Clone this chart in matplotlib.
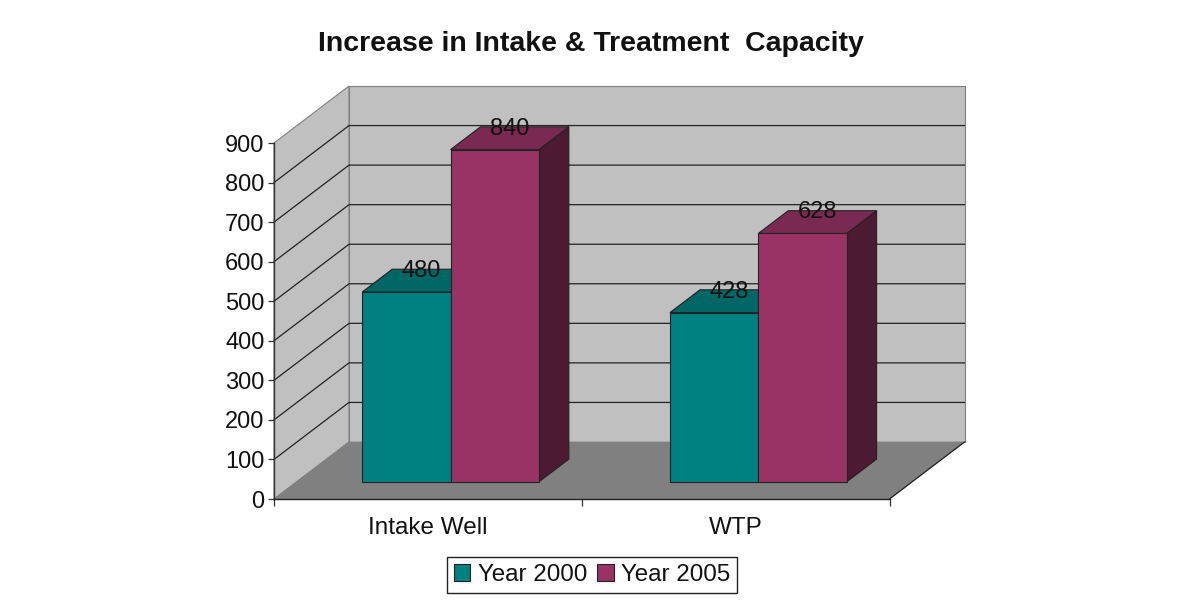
import matplotlib
matplotlib.use('Agg')
import matplotlib.pyplot as plt
from matplotlib.patches import Polygon, Patch

plt.rcParams['font.family'] = ['Liberation Sans', 'DejaVu Sans']

categories = ['Intake Well', 'WTP']
series_names = ['Year 2000', 'Year 2005']
year_2000 = [480, 428]
year_2005 = [840, 628]
y_ticks = [0, 100, 200, 300, 400, 500, 600, 700, 800, 900]

front_colors = ['#008080', '#993366']
top_colors = ['#006666', '#7a2952']
side_colors = ['#004d4d', '#4d1a33']

W, H = 1185, 601
fig = plt.figure(figsize=(W / 100, H / 100), dpi=100)
ax = fig.add_axes([274 / W, 1 - 499 / H, 615.5 / W, 356 / H])
ax.set_xlim(0, 2)
ax.set_ylim(0, 900)

# depth of the fake 3d box, in data units
DEPTH_X = 75 / 307.75
DEPTH_Y = 57 / (356 / 900)
BAR_D0 = 0.30
BAR_D1 = 0.70
BAR_W = 0.287
BAR_START = 0.2135


def pt(x, y, d=0.0):
    return (x + d * DEPTH_X, y + d * DEPTH_Y)


def face(points, color, edge='#222222', lw=0.8, z=1):
    ax.add_patch(Polygon(points, closed=True, facecolor=color, edgecolor=edge,
                         linewidth=lw, clip_on=False, zorder=z))


# walls and floor
face([pt(0, 0), pt(0, 900), pt(0, 900, 1), pt(0, 0, 1)], '#c0c0c0', '#808080', 0.8)
face([pt(0, 0, 1), pt(0, 900, 1), pt(2, 900, 1), pt(2, 0, 1)], '#c0c0c0', '#808080', 0.8)

for v in y_ticks[1:-1]:
    xs, ys = zip(pt(0, v), pt(0, v, 1), pt(2, v, 1))
    ax.plot(xs, ys, color='#222222', lw=0.9, clip_on=False, zorder=2)

face([pt(0, 0), pt(0, 0, 1), pt(2, 0, 1), pt(2, 0)], '#808080', '#808080', 0.5, z=3)
xs, ys = zip(pt(2, 0), pt(2, 0, 1))
ax.plot(xs, ys, color='#222222', lw=0.9, clip_on=False, zorder=3)

# bars
z = 4
for i in range(len(categories)):
    for j, values in enumerate([year_2000, year_2005]):
        left = i + BAR_START + j * BAR_W
        right = left + BAR_W
        v = values[i]
        face([pt(right, 0, BAR_D0), pt(right, v, BAR_D0), pt(right, v, BAR_D1), pt(right, 0, BAR_D1)],
             side_colors[j], z=z)
        face([pt(left, v, BAR_D0), pt(left, v, BAR_D1), pt(right, v, BAR_D1), pt(right, v, BAR_D0)],
             top_colors[j], z=z)
        face([pt(left, 0, BAR_D0), pt(left, v, BAR_D0), pt(right, v, BAR_D0), pt(right, 0, BAR_D0)],
             front_colors[j], z=z + 1)
        ax.annotate(str(v), pt((left + right) / 2, v, BAR_D0), xytext=(15, 21),
                    textcoords='offset pixels', ha='center', va='center',
                    fontsize=17, color='#111111', zorder=20, annotation_clip=False)
        z += 2

# axes
for s in ['top', 'right']:
    ax.spines[s].set_visible(False)
ax.spines['left'].set_color('#333333')
ax.spines['bottom'].set_color('#222222')
ax.spines['left'].set_linewidth(1.0)
ax.spines['bottom'].set_linewidth(1.0)
ax.spines['left'].set_zorder(15)
ax.spines['bottom'].set_zorder(15)
ax.patch.set_visible(False)

ax.set_yticks(y_ticks)
ax.tick_params(axis='y', length=4.5, width=0.9, color='#333333', labelsize=17, pad=2.4, labelcolor='#111111')
ax.set_xticks([0, 1, 2])
ax.set_xticklabels([])
ax.tick_params(axis='x', which='major', length=5, width=0.9, color='#333333')
ax.set_xticks([0.5, 1.5], minor=True)
ax.set_xticklabels(categories, minor=True)
ax.tick_params(axis='x', which='minor', length=0, labelsize=17.5, pad=13, labelcolor='#111111')

fig.text(591 / W, 1 - 44 / H, 'Increase in Intake & Treatment  Capacity', ha='center', va='center',
         fontsize=20.5, fontweight='bold', color='#111111')

handles = [Patch(facecolor=c, edgecolor='#222222', linewidth=0.8) for c in front_colors]
leg = fig.legend(handles, series_names, loc='center', bbox_to_anchor=(592 / W, 1 - 575 / H),
                 ncol=2, fontsize=17.4, frameon=True, fancybox=False, edgecolor='#222222',
                 framealpha=1, handlelength=0.68, handleheight=0.68, handletextpad=0.32,
                 columnspacing=0.42, borderpad=0.27, borderaxespad=0, labelcolor='#111111')
leg.get_frame().set_linewidth(1.0)

fig.savefig('out.png', dpi=100)
